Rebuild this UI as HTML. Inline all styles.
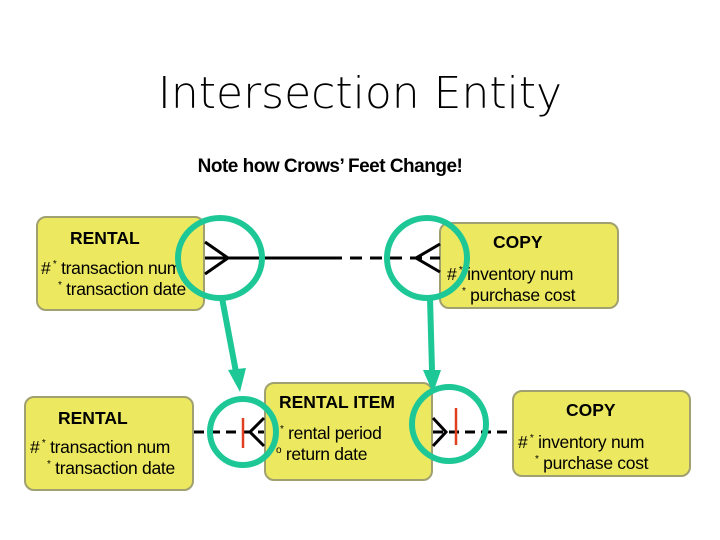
<!DOCTYPE html>
<html><head><style>
body{margin:0;background:#fff;width:720px;height:540px;overflow:hidden;position:relative;font-family:"Liberation Sans",Arial,sans-serif}
.t{position:absolute;left:0;width:720px;text-align:center}
.b{position:absolute;background:#ece860;border:2px solid #a0a070;border-radius:10px;box-sizing:border-box}
.a{position:absolute;font-size:17.5px;line-height:20px;white-space:nowrap;color:#000;letter-spacing:-0.3px}
.h{font-weight:bold;letter-spacing:0}
sup{font-size:10px}
</style></head><body>
<div class="t" style="top:68px;font-size:44px;font-family:'DejaVu Sans',sans-serif;font-weight:200;left:0">Intersection Entity</div>
<div class="t" style="top:156px;font-size:19px;font-weight:bold;left:-30px;letter-spacing:-0.5px">Note how Crows’ Feet Change!</div>

<div class="b" style="left:36px;top:216px;width:169px;height:95px"></div>
<div class="a h" style="left:70px;top:228px">RENTAL</div>
<div class="a" style="left:41px;top:255px">#<sup> *</sup> transaction num</div>
<div class="a" style="left:58px;top:276px"><sup>*</sup> transaction date</div>

<div class="b" style="left:439px;top:222px;width:180px;height:87px"></div>
<div class="a h" style="left:493px;top:232px">COPY</div>
<div class="a" style="left:447px;top:261px">#<sup> *</sup> inventory num</div>
<div class="a" style="left:462px;top:282px"><sup>*</sup> purchase cost</div>

<div class="b" style="left:24px;top:396px;width:170px;height:95px"></div>
<div class="a h" style="left:58px;top:408px">RENTAL</div>
<div class="a" style="left:30px;top:434px">#<sup> *</sup> transaction num</div>
<div class="a" style="left:47px;top:455px"><sup>*</sup> transaction date</div>

<div class="b" style="left:264px;top:382px;width:169px;height:99px"></div>
<div class="a h" style="left:279px;top:392px">RENTAL ITEM</div>
<div class="a" style="left:280px;top:420px"><sup>*</sup> rental period</div>
<div class="a" style="left:276px;top:441px"><sup>o</sup> return date</div>

<div class="b" style="left:512px;top:390px;width:179px;height:87px"></div>
<div class="a h" style="left:566px;top:400px">COPY</div>
<div class="a" style="left:518px;top:429px">#<sup> *</sup> inventory num</div>
<div class="a" style="left:535px;top:450px"><sup>*</sup> purchase cost</div>

<svg width="720" height="540" style="position:absolute;left:0;top:0">
<g stroke="#000" stroke-width="3" fill="none">
<line x1="205" y1="258" x2="330" y2="258"/>
<line x1="330" y1="258" x2="440" y2="258" stroke-dasharray="12,8"/>
<polyline points="205,242 228,258 205,274"/>
<polyline points="440,244 416,258 440,272"/>
<line x1="194" y1="432" x2="264" y2="432" stroke-dasharray="10,6"/>
<polyline points="264,418 250,432 264,446"/>
<line x1="433" y1="432" x2="512" y2="432" stroke-dasharray="10,6"/>
<polyline points="433,418 446,432 433,446"/>
</g>
<line x1="243" y1="418" x2="243" y2="448" stroke="#e04020" stroke-width="2.5"/>
<line x1="456" y1="408" x2="456" y2="445" stroke="#e04020" stroke-width="2.5"/>
<g stroke="#1ec896" stroke-width="6" fill="none">
<ellipse cx="220" cy="258" rx="42" ry="40"/>
<ellipse cx="427" cy="258" rx="40" ry="40"/>
<ellipse cx="243" cy="432" rx="33" ry="33"/>
<ellipse cx="449" cy="424" rx="37" ry="37"/>
<line x1="222" y1="298" x2="236" y2="372"/>
<line x1="430" y1="298" x2="432" y2="370"/>
</g>
<polygon points="228,370 246,368 240,392" fill="#1ec896"/>
<polygon points="423,370 441,370 433,393" fill="#1ec896"/>
</svg>
</body></html>
